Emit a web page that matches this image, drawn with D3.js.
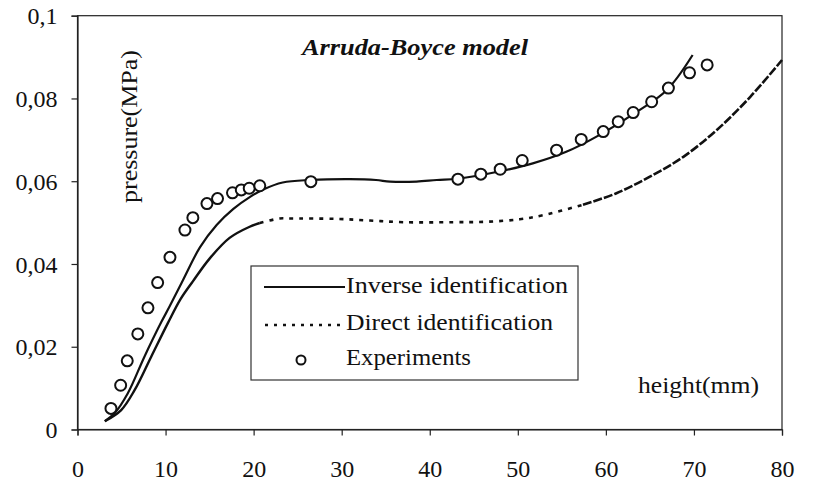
<!DOCTYPE html>
<html><head><meta charset="utf-8">
<script src="https://cdn.jsdelivr.net/npm/d3@7"></script>
<style>
body{margin:0;background:#fff}
svg{display:block}
</style>
</head><body>
<svg id="c" width="815" height="485"></svg>
<script>
// ---- data ----
const xTicks = [0,10,20,30,40,50,60,70,80];
const yTicks = [0,0.02,0.04,0.06,0.08,0.1];
const yTickLabels = ["0","0,02","0,04","0,06","0,08","0,1"];

const expHeight   = [3.8,4.9,5.65,6.85,8.0,9.1,10.5,12.2,13.1,14.7,15.9,17.6,18.6,19.5,20.7,26.5,43.2,45.8,48.0,50.5,54.4,57.2,59.7,61.4,63.1,65.2,67.1,69.5,71.5];
const expPressure = [0.0051,0.0107,0.0166,0.0231,0.0294,0.0355,0.0416,0.0482,0.0512,0.0546,0.0558,0.0572,0.0579,0.0583,0.0589,0.0599,0.0605,0.0617,0.0629,0.0650,0.0675,0.0701,0.0720,0.0744,0.0766,0.0792,0.0825,0.0862,0.0881];

const invHeight   = [3.1,4.2,5.7,7.6,9.5,10.45,12.0,13.9,15.8,17.7,19.6,21.1,23.3,26.5,30.9,33.9,35.5,38.5,40.8,43.2,48.0,51.7,55.5,59.3,63.1,66.9,69.85];
const invPressure = [0.0020,0.0039,0.0087,0.0176,0.0259,0.0297,0.0362,0.0440,0.0494,0.0533,0.0562,0.0580,0.0597,0.0603,0.0605,0.0603,0.0599,0.0599,0.0603,0.0606,0.0624,0.0643,0.0671,0.0712,0.0762,0.0820,0.0905];

const dirHeight   = [3.1,4.96,6.48,8.37,10.26,11.7,13.1,15.0,17.27,19.55,20.7,22.95,24.1,29.4,33.2,37.0,42.6,46.4,50.2,52.9,57.4,61.2,65.0,68.8,72.6,76.4,80.0];
const dirPressure = [0.0020,0.0047,0.0095,0.0176,0.0257,0.0315,0.0358,0.0413,0.0463,0.0490,0.0499,0.0510,0.0510,0.0509,0.0505,0.0501,0.0501,0.0502,0.0508,0.0518,0.0543,0.0571,0.0611,0.0659,0.0724,0.0804,0.0893];

const seriesNames = ["Inverse identification","Direct identification","Experiments"];
const titleText = "Arruda-Boyce model";
const xLabel = "height(mm)";
const yLabel = "pressure(MPa)";

// ---- font detection (pick first installed serif face) ----
const svg = d3.select("#c");
function width(fam){
  const t = svg.append("text").attr("x",-999).attr("y",-999).style("font-size","40px")
    .style("font-family",fam).text("Inverse identification 0,08 WMmw");
  const w = t.node().getComputedTextLength(); t.remove(); return w;
}
const candidates = ["Liberation Serif","Times New Roman","Tinos","Times","Nimbus Roman","Nimbus Roman No9 L","FreeSerif","DejaVu Serif"];
const baseMono = width("monospace");
let FONT = "serif";
for (const c of candidates){ if (Math.abs(width(`"${c}", monospace`)-baseMono)>0.5){ FONT = `"${c}", serif`; break; } }

// ---- layout ----
const L = 77.5, R = 782, T = 15.7, B = 429.5;
const x = d3.scaleLinear().domain([0,80]).range([L,R]);
const y = d3.scaleLinear().domain([0,0.1]).range([B,T]);

// frame
svg.append("rect").attr("x",L).attr("y",T).attr("width",R-L).attr("height",B-T)
  .attr("fill","none").attr("stroke","#222").attr("stroke-width",1.2);

// axes
const gx = svg.append("g").attr("transform",`translate(0,${B})`)
  .call(d3.axisBottom(x).tickValues(xTicks).tickSize(6).tickFormat(d3.format("d")));
gx.selectAll("text").attr("y",47.5).attr("dy","0").style("font-size","24px")
  .style("font-family",FONT).attr("fill","#111");
const gy = svg.append("g").attr("transform",`translate(${L},0)`)
  .call(d3.axisLeft(y).tickValues(yTicks).tickSize(6).tickFormat((d,i)=>yTickLabels[i]));
gy.selectAll("text").attr("x",-20).attr("dy","0.34em").style("font-size","24px")
  .style("font-family",FONT).attr("fill","#111");
svg.selectAll(".domain").attr("stroke","#222").attr("stroke-width",1.2);
svg.selectAll(".tick line").attr("stroke","#222").attr("stroke-width",1.2);

// curves
const line = d3.line().x(d=>x(d[0])).y(d=>y(d[1])).curve(d3.curveCatmullRom.alpha(0.5));
const inv = invHeight.map((h,i)=>[h,invPressure[i]]);
const dir = dirHeight.map((h,i)=>[h,dirPressure[i]]);

// direct identification: dense-point dotted curve (looks solid where steep)
svg.append("path").datum(dir.filter(d=>d[0]<=20.7)).attr("d",line)
  .attr("fill","none").attr("stroke","#111").attr("stroke-width",2.4);
svg.append("path").datum(dir.filter(d=>d[0]>=20.7 && d[0]<=57.4)).attr("d",line)
  .attr("fill","none").attr("stroke","#111").attr("stroke-width",2.6).attr("stroke-dasharray","4,6");
svg.append("path").datum(dir.filter(d=>d[0]>=57.4)).attr("d",line)
  .attr("fill","none").attr("stroke","#111").attr("stroke-width",2.6).attr("stroke-dasharray","9,2");

svg.append("path").datum(inv).attr("d",line)
  .attr("fill","none").attr("stroke","#111").attr("stroke-width",2.2);

// experiments
svg.append("g").selectAll("circle").data(expHeight.map((h,i)=>[h,expPressure[i]]))
  .join("circle").attr("cx",d=>x(d[0])).attr("cy",d=>y(d[1])).attr("r",5.5)
  .attr("fill","#fff").attr("stroke","#111").attr("stroke-width",2);

// title and axis labels
svg.append("text").attr("x",302).attr("y",55).attr("textLength",226).attr("lengthAdjust","spacingAndGlyphs")
  .style("font-family",FONT).attr("fill","#111")
  .style("font-size","23px").style("font-weight","bold").style("font-style","italic").text(titleText);
svg.append("text").attr("x",638).attr("y",393).attr("textLength",121).attr("lengthAdjust","spacingAndGlyphs")
  .style("font-family",FONT).attr("fill","#111").style("font-size","24px").text(xLabel);
svg.append("text").attr("transform","translate(137,126.5) rotate(-90)").attr("text-anchor","middle")
  .attr("textLength",153).attr("lengthAdjust","spacingAndGlyphs")
  .style("font-family",FONT).attr("fill","#111").style("font-size","23px").text(yLabel);

// legend
const lg = svg.append("g");
lg.append("rect").attr("x",251).attr("y",266).attr("width",327).attr("height",114)
  .attr("fill","#fff").attr("stroke","#333").attr("stroke-width",1.2);
lg.append("line").attr("x1",264).attr("x2",345).attr("y1",287).attr("y2",287)
  .attr("stroke","#111").attr("stroke-width",2.2);
lg.append("line").attr("x1",265).attr("x2",345).attr("y1",325).attr("y2",325)
  .attr("stroke","#111").attr("stroke-width",2.4).attr("stroke-dasharray","3,6");
lg.append("circle").attr("cx",301).attr("cy",360).attr("r",4.5)
  .attr("fill","#fff").attr("stroke","#111").attr("stroke-width",2);
const lens = [222,207,125];
const bases = [293.3,330,365];
seriesNames.forEach((s,i)=>{
  lg.append("text").attr("x",346).attr("y",bases[i]).attr("textLength",lens[i]).attr("lengthAdjust","spacingAndGlyphs")
    .style("font-family",FONT).attr("fill","#111").style("font-size","24px").text(s);
});
</script>
</body></html>
